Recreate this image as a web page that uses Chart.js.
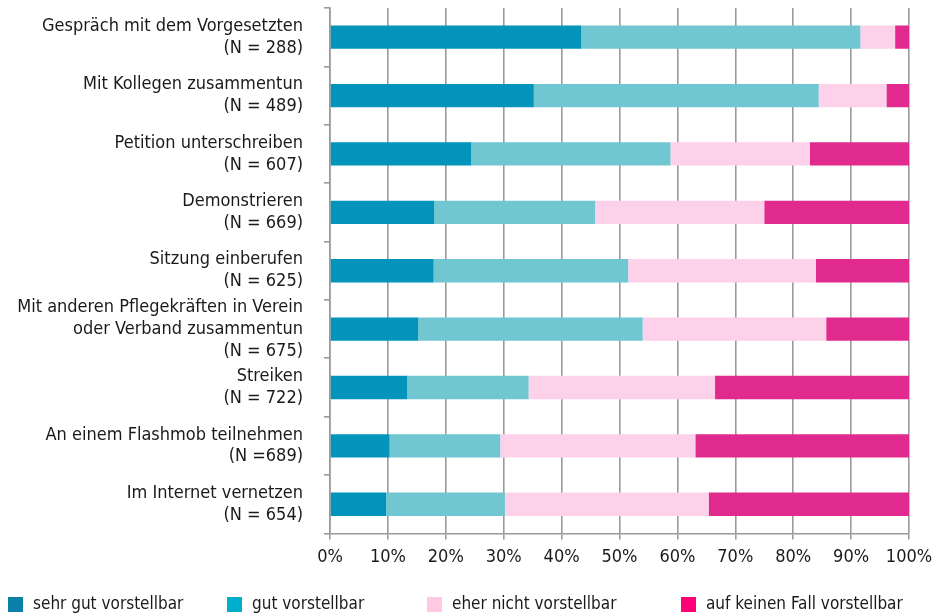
<!DOCTYPE html>
<html>
<head>
<meta charset="utf-8">
<script src="https://cdn.jsdelivr.net/npm/chart.js@4/dist/chart.umd.min.js"></script>
<style>
    html, body { margin: 0; padding: 0; background: #fff; }
    #wrap { width: 940px; height: 616px; position: relative; }
</style>
</head>
<body>
<div id="wrap"><canvas id="chart"></canvas></div>
<script>
    /* ========= DATA ========= */
    var categories = [
        ['Gespräch mit dem Vorgesetzten', '(N = 288)'],
        ['Mit Kollegen zusammentun', '(N = 489)'],
        ['Petition unterschreiben', '(N = 607)'],
        ['Demonstrieren', '(N = 669)'],
        ['Sitzung einberufen', '(N = 625)'],
        ['Mit anderen Pflegekräften in Verein', 'oder Verband zusammentun', '(N = 675)'],
        ['Streiken', '(N = 722)'],
        ['An einem Flashmob teilnehmen', '(N =689)'],
        ['Im Internet vernetzen', '(N = 654)']
    ];
    var seriesNames = ['sehr gut vorstellbar', 'gut vorstellbar', 'eher nicht vorstellbar', 'auf keinen Fall vorstellbar'];
    var sehrGut = [43.4, 35.2, 24.4, 18.0, 17.9, 15.2, 13.3, 10.3, 9.7];
    var gut = [48.2, 49.2, 34.4, 27.8, 33.6, 38.8, 21.0, 19.1, 20.5];
    var eherNicht = [6.0, 11.7, 24.1, 29.2, 32.4, 31.7, 32.2, 33.7, 35.2];
    var keinenFall = [2.4, 3.9, 17.1, 25.0, 16.1, 14.3, 33.5, 36.9, 34.6];
    var xTicks = [0, 10, 20, 30, 40, 50, 60, 70, 80, 90, 100];

    var barColors = ['#0294ba', '#70c6d1', '#fdd1ea', '#e12a8e'];
    var legendColors = ['#0a7fa7', '#00afcb', '#ffc9e4', '#ff0077'];

    var FONT = "'Liberation Sans Narrow', 'DejaVu Sans Condensed', 'Roboto Condensed', sans-serif";
    Chart.defaults.font.family = FONT;
    Chart.defaults.font.size = 18;
    Chart.defaults.color = '#1a1a1a';

    var values = [sehrGut, gut, eherNicht, keinenFall];
    var datasets = values.map(function (v, i) {
        return {
            label: seriesNames[i],
            data: v,
            backgroundColor: barColors[i],
            borderWidth: 0,
            barPercentage: 0.4,
            categoryPercentage: 1
        };
    });

    /* ========= LEGEND (spread across the bottom row) ========= */
    var legendLeft = [8, 227, 427, 681];
    var legendRow = {
        id: 'legendRow',
        afterDraw: function (chart) {
            var ctx = chart.ctx;
            ctx.save();
            ctx.font = '17px ' + FONT;
            ctx.textBaseline = 'middle';
            ctx.textAlign = 'left';
            chart.data.datasets.forEach(function (ds, i) {
                ctx.fillStyle = legendColors[i];
                ctx.fillRect(legendLeft[i], 597, 15, 15);
                ctx.fillStyle = '#1a1a1a';
                ctx.fillText(ds.label, legendLeft[i] + 25, 605);
            });
            ctx.restore();
        }
    };

    new Chart(document.getElementById('chart'), {
        type: 'bar',
        data: { labels: categories, datasets: datasets },
        plugins: [legendRow],
        options: {
            indexAxis: 'y',
            responsive: true,
            maintainAspectRatio: false,
            animation: false,
            layout: { padding: { top: 8, right: 31, left: 0, bottom: 41 } },
            plugins: {
                tooltip: { enabled: false },
                legend: { display: false }
            },
            scales: {
                x: {
                    stacked: true,
                    min: 0,
                    max: 100,
                    afterBuildTicks: function (s) {
                        s.ticks = xTicks.map(function (t) { return { value: t }; });
                    },
                    ticks: {
                        callback: function (v) { return v + '%'; },
                        padding: 7,
                        maxRotation: 0,
                        autoSkip: false
                    },
                    grid: { color: '#9a9a9a', lineWidth: 1.6, tickLength: 6 },
                    border: { color: '#9a9a9a', width: 1.6 }
                },
                y: {
                    stacked: true,
                    afterFit: function (s) {
                        s.width = 330;
                        s.paddingTop = 0;
                        s.paddingBottom = 0;
                    },
                    ticks: { padding: 21, autoSkip: false, font: { lineHeight: 1.22 } },
                    grid: {
                        offset: true,
                        drawOnChartArea: false,
                        color: '#9a9a9a',
                        lineWidth: 1.6,
                        tickLength: 6
                    },
                    border: { color: '#9a9a9a', width: 1.6 }
                }
            }
        }
    });
</script>
</body>
</html>
